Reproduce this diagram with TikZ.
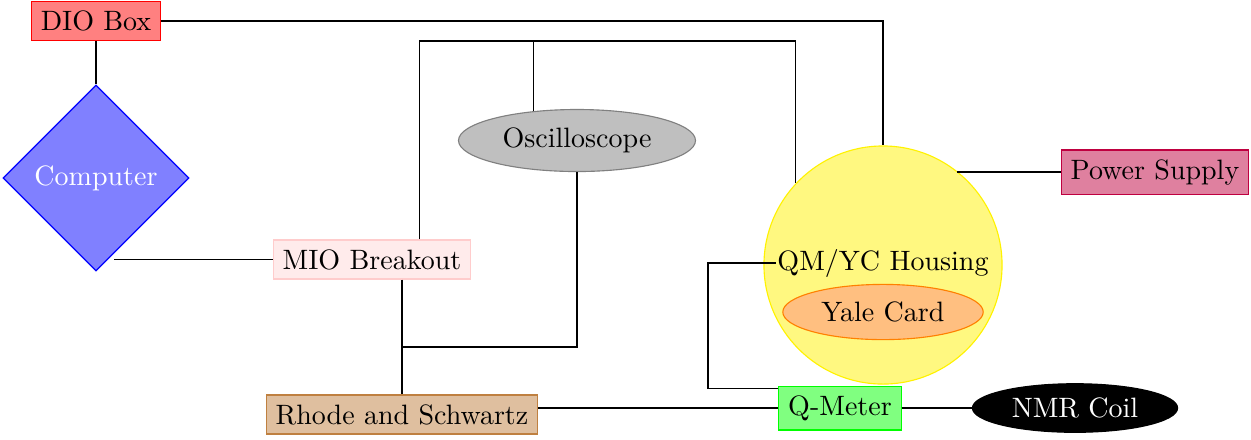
\documentclass[tikz,border=0pt]{standalone}
\usetikzlibrary{shapes.geometric,calc}
\begin{document}
\begin{tikzpicture}[x=0.357pt,y=-0.357pt,font=\fontsize{10}{12}\selectfont]
\tikzset{
  box/.style={draw,rectangle,inner sep=3.33pt},
  ell/.style={draw,ellipse},
  link/.style={draw=black,line width=0.45pt}
}
\useasboundingbox (0,0) rectangle (1251,439);
% nodes
\node[box,fill=red!50,draw=red] (dio) at (96,21) {DIO Box};
\node[diamond,draw=blue,fill=blue!50,text=white,minimum width=66.4pt,minimum height=66.4pt,inner sep=0pt] (computer) at (96,178) {Computer};
\node[box,fill=red!8,draw=red!20] (mio) at (372,259.5) {MIO Breakout};
\node[ell,fill=gray!50,draw=gray] (osc) at (577,140.5) {Oscilloscope};
\node[box,fill=purple!50,draw=purple] (power) at (1155,172) {Power Supply};
\node[circle,fill=yellow!50,draw=yellow,minimum size=85pt,inner sep=0pt] (housing) at (883,265) {};
\node[inner sep=0.5pt] (hlabel) at (883,263) {QM/YC Housing};
\node[ell,fill=orange!50,draw=orange] (yale) at (883,312) {Yale Card};
\node[box,fill=green!50,draw=green] (qmeter) at (840,408) {Q-Meter};
\node[box,fill=brown!50,draw=brown] (rhode) at (402,414.5) {Rhode and Schwartz};
\node[ell,fill=black,text=white,inner ysep=2.5pt] (nmr) at (1075,408) {NMR Coil};
% routing coordinates
\coordinate (cpt) at ($(computer.south)+(18,0)$);
\coordinate (toprail) at (600,41);
\coordinate (mtop) at ($(mio.north west)!0.74!(mio.north east)$);
\coordinate (junction) at (402,347);
\coordinate (rail) at (708,300);
\coordinate (qmin) at ($(qmeter.north west)+(0,3)$);
% connectors
\draw[link] (dio) -- (computer);
\draw[link] (mio.west) -- (mio.west -| cpt);
\draw[link] (dio.east) -| (housing.north);
\draw[link] (mtop) |- (housing.137 |- toprail) -- (housing.137);
\draw[link] (osc.146) -- (osc.146 |- toprail);
\draw[link] (mio.south -| rhode.north) -- (rhode.north);
\draw[link] (osc.south) |- (junction);
\draw[link] (hlabel.west) -| (rail) |- (qmin);
\draw[link] (qmeter.west -| rhode.east) -- (qmeter.west);
\draw[link] (qmeter.east) -- (qmeter.east -| nmr.west);
\draw[link] (power.west) -- (power.west -| housing.52);
\end{tikzpicture}
\end{document}
